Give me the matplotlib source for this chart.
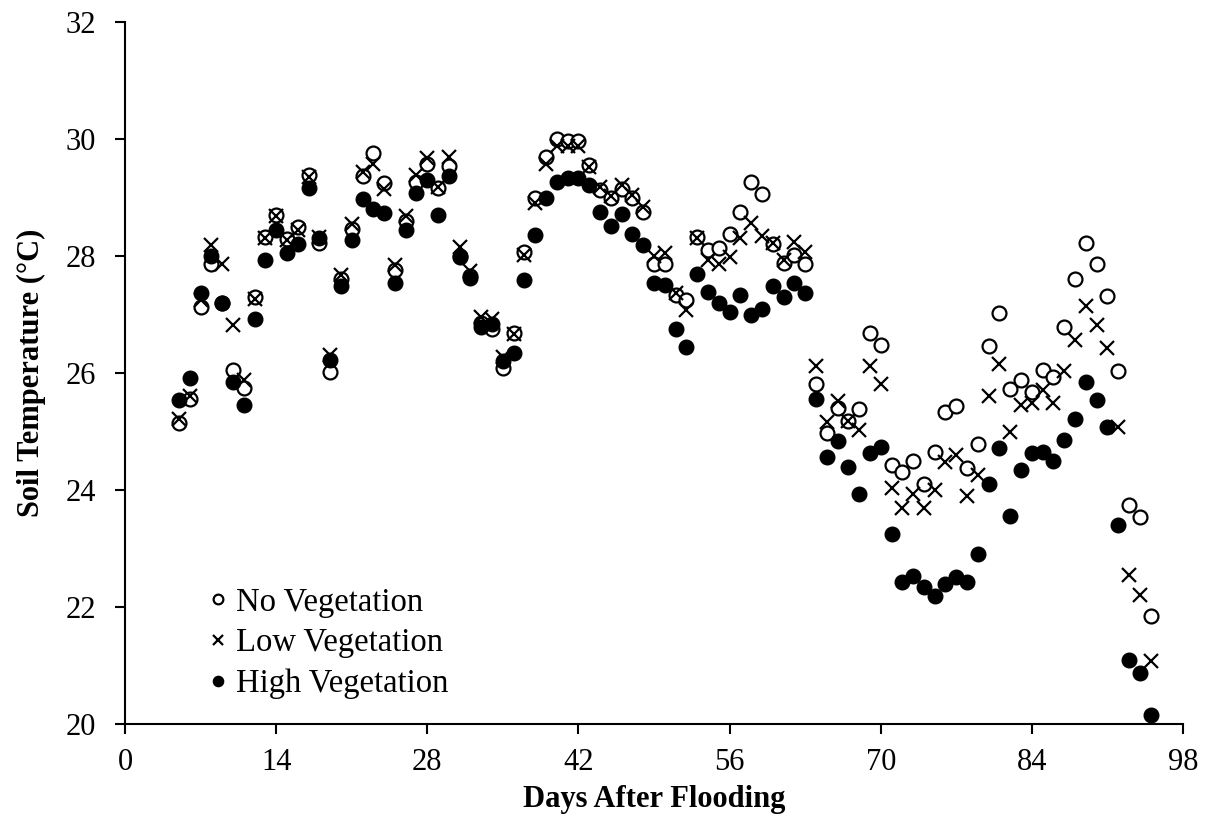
import matplotlib
matplotlib.use("Agg")
import matplotlib.pyplot as plt
import numpy as np

plt.rcParams['font.family'] = ['Liberation Serif', 'DejaVu Serif']
plt.rcParams['mathtext.fontset'] = 'stix'

# Daily soil temperature (°C), days 5-95 after flooding
days = list(range(5, 96))

no_veg = [
    25.15, 25.55, 27.13, 27.87, 27.20, 26.05, 25.74, 27.30, 28.32, 28.70,   # 5-14
    28.29, 28.50, 29.38, 28.22, 26.02, 27.60, 28.47, 29.36, 29.76, 29.25,   # 15-24
    27.76, 28.60, 29.27, 29.58, 29.16, 29.53, 27.98, 27.65, 26.85, 26.76,   # 25-34
    26.08, 26.68, 28.07, 28.99, 29.70, 30.00, 29.96, 29.96, 29.55, 29.12,   # 35-44
    29.00, 29.15, 29.00, 28.76, 27.87, 27.87, 27.33, 27.25, 28.33, 28.10,   # 45-54
    28.13, 28.38, 28.75, 29.27, 29.06, 28.20, 27.88, 28.02, 27.86, 25.81,   # 55-64
    24.98, 25.40, 25.18, 25.38, 26.69, 26.48, 24.42, 24.31, 24.50, 24.11,   # 65-74
    24.65, 25.34, 25.44, 24.38, 24.79, 26.46, 27.02, 25.72, 25.88, 25.68,   # 75-84
    26.05, 25.94, 26.79, 27.60, 28.23, 27.86, 27.32, 26.03, 23.74, 23.54,   # 85-94
    21.85,                                                                  # 95
]

low_veg = [
    25.22, 25.60, 27.25, 28.19, 27.87, 26.82, 25.88, 27.27, 28.30, 28.68,   # 5-14
    28.27, 28.45, 29.35, 28.33, 26.30, 27.67, 28.55, 29.44, 29.58, 29.14,   # 15-24
    27.85, 28.68, 29.38, 29.68, 29.18, 29.70, 28.15, 27.75, 26.95, 26.92,   # 25-34
    26.28, 26.66, 28.02, 28.90, 29.58, 29.88, 29.88, 29.88, 29.52, 29.18,   # 35-44
    29.03, 29.22, 29.05, 28.84, 28.00, 28.05, 27.36, 27.08, 28.30, 27.93,   # 45-54
    27.87, 27.98, 28.30, 28.56, 28.35, 28.22, 27.93, 28.24, 28.07, 26.12,   # 55-64
    25.17, 25.52, 25.18, 25.02, 26.12, 25.82, 24.03, 23.70, 23.93, 23.69,   # 65-74
    24.00, 24.48, 24.60, 23.89, 24.26, 25.60, 26.15, 25.00, 25.45, 25.49,   # 75-84
    25.71, 25.49, 26.04, 26.56, 27.15, 26.82, 26.42, 25.07, 22.55, 22.20,   # 85-94
    21.07,                                                                  # 95
]

high_veg = [
    25.54, 25.92, 27.36, 28.00, 27.19, 25.84, 25.45, 26.93, 27.93, 28.44,   # 5-14
    28.05, 28.20, 29.16, 28.30, 26.23, 27.48, 28.27, 28.97, 28.80, 28.73,   # 15-24
    27.54, 28.44, 29.08, 29.30, 28.70, 29.37, 28.00, 27.62, 26.79, 26.84,   # 25-34
    26.20, 26.34, 27.59, 28.36, 29.00, 29.27, 29.33, 29.33, 29.21, 28.76,   # 35-44
    28.51, 28.71, 28.38, 28.19, 27.54, 27.50, 26.75, 26.45, 27.70, 27.39,   # 45-54
    27.19, 27.04, 27.33, 27.00, 27.10, 27.48, 27.30, 27.54, 27.37, 25.55,   # 55-64
    24.57, 24.83, 24.40, 23.93, 24.63, 24.74, 23.25, 22.43, 22.53, 22.34,   # 65-74
    22.18, 22.39, 22.52, 22.43, 22.90, 24.10, 24.71, 23.56, 24.35, 24.64,   # 75-84
    24.65, 24.50, 24.85, 25.21, 25.85, 25.53, 25.07, 23.40, 21.10, 20.87,   # 85-94
    20.15,                                                                  # 95
]

x_ticks = [0, 14, 28, 42, 56, 70, 84, 98]
y_ticks = [20, 22, 24, 26, 28, 30, 32]

fig = plt.figure(figsize=(12.08, 8.26), dpi=100)
ax = fig.add_axes([125 / 1208, 1 - 724 / 826, (1183 - 125) / 1208, (724 - 22) / 826])

ax.plot(days, no_veg, linestyle='none', marker='o', markersize=10,
        markerfacecolor='white', markeredgecolor='black', markeredgewidth=1.6,
        label='No Vegetation')
ax.plot(days, low_veg, linestyle='none', marker='x', markersize=10,
        markeredgecolor='black', markeredgewidth=1.6, label='Low Vegetation')
ax.plot(days, high_veg, linestyle='none', marker='o', markersize=10.5,
        markerfacecolor='black', markeredgecolor='black', markeredgewidth=1,
        label='High Vegetation')

ax.set_xlim(0, 98)
ax.set_ylim(20, 32)
ax.set_xticks(x_ticks)
ax.set_yticks(y_ticks)

for side in ('top', 'right'):
    ax.spines[side].set_visible(False)
for side in ('left', 'bottom'):
    ax.spines[side].set_linewidth(1.5)

ax.tick_params(axis='both', direction='out', length=7, width=1.5,
               labelsize=22, colors='black')
ax.tick_params(axis='x', pad=10)
ax.tick_params(axis='y', pad=14)

ax.set_xlabel('Days After Flooding', fontsize=22, fontweight='bold', labelpad=6)
ax.set_ylabel('Soil Temperature (°C)', fontsize=22, fontweight='bold', labelpad=14)

leg = ax.legend(loc='lower left', bbox_to_anchor=(0.08, 0.035), frameon=False,
                fontsize=23.5, markerscale=0.7, handlelength=0.5, handletextpad=0.3,
                labelspacing=0.32, borderaxespad=0, borderpad=0)

fig.savefig('out.png', dpi=100)
